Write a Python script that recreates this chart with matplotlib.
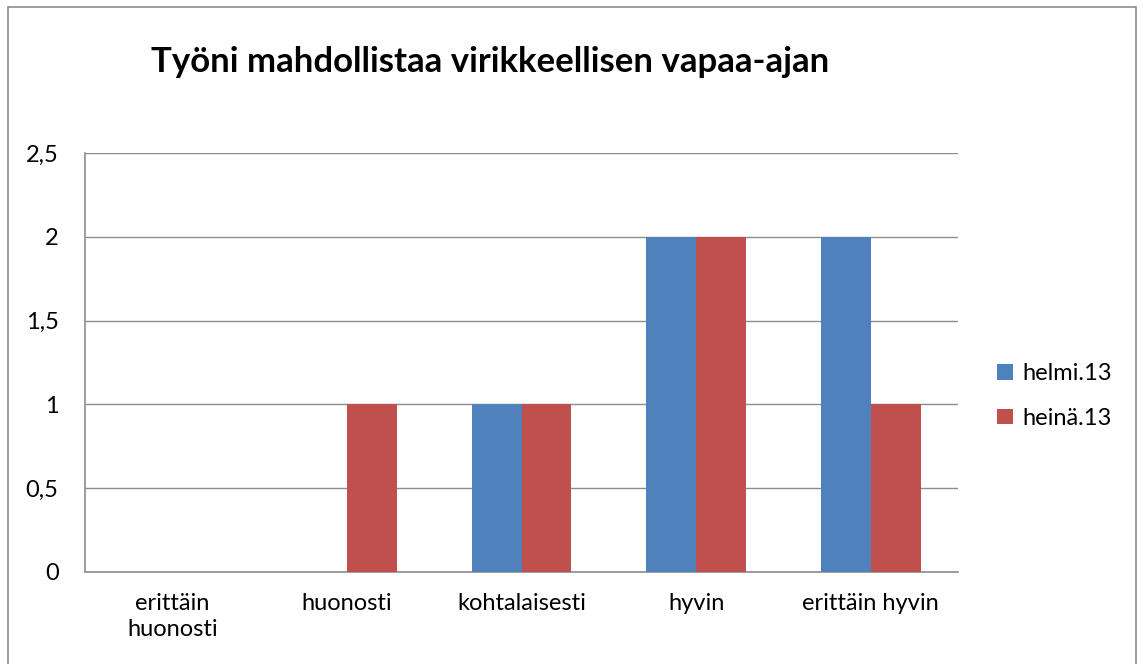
import matplotlib
matplotlib.use("Agg")
import matplotlib.pyplot as plt
import numpy as np
from matplotlib.patches import Rectangle

categories = ["erittäin\nhuonosti", "huonosti", "kohtalaisesti", "hyvin", "erittäin hyvin"]
series_names = ["helmi.13", "heinä.13"]
helmi = [0, 0, 1, 2, 2]
heina = [0, 1, 1, 2, 1]
yticks = [0, 0.5, 1, 1.5, 2, 2.5]
ytick_labels = ["0", "0,5", "1", "1,5", "2", "2,5"]
title = "Työni mahdollistaa virikkeellisen vapaa-ajan"

plt.rcParams['font.family'] = ['Lato', 'DejaVu Sans']

W, H = 1143, 664
fig = plt.figure(figsize=(W/100, H/100), dpi=100)
fig.patch.set_facecolor("white")

# outer border
fig.patches.append(Rectangle((8/W, -0.02), (1136-8)/W, 1 - 7/H + 0.02,
                             transform=fig.transFigure, fill=False,
                             edgecolor="#8c8c8c", linewidth=1.2))

ax = fig.add_axes([85/W, 1-572/H, (958-85)/W, (572-153)/H])
x = np.arange(len(categories))
bw = 1/3.5
c_blue = "#4F81BD"
c_red = "#C0504D"
ax.bar(x - bw/2, helmi, width=bw, color=c_blue, label=series_names[0], zorder=3)
ax.bar(x + bw/2, heina, width=bw, color=c_red, label=series_names[1], zorder=3)

ax.set_xlim(-0.5, len(categories) - 0.5)
ax.set_ylim(0, 2.5)
ax.set_yticks(yticks)
ax.set_yticklabels(ytick_labels)
ax.set_xticks(x)
ax.set_xticklabels(categories, linespacing=1.3)
ax.yaxis.grid(True, color="#8c8c8c", linewidth=1.0, zorder=0)
ax.set_axisbelow(True)
for s in ["top", "right"]:
    ax.spines[s].set_visible(False)
for s in ["left", "bottom"]:
    ax.spines[s].set_color("#8c8c8c")
    ax.spines[s].set_linewidth(1.2)
ax.tick_params(axis="both", length=0, labelsize=17, colors="black")
ax.tick_params(axis="y", pad=19)
ax.tick_params(axis="x", pad=15)
for lab in ax.get_yticklabels():
    lab.set_horizontalalignment("right")

fig.text(490/W, 1-62/H, title, ha="center", va="center", fontsize=25,
         fontweight="bold")

leg = ax.legend(loc="center left", bbox_to_anchor=(976/W, 1-396/H),
                bbox_transform=fig.transFigure, frameon=False, fontsize=17,
                handlelength=0.65, handleheight=0.65, handletextpad=0.4,
                labelspacing=1.0)

fig.savefig("out.png", dpi=100, facecolor="white")
